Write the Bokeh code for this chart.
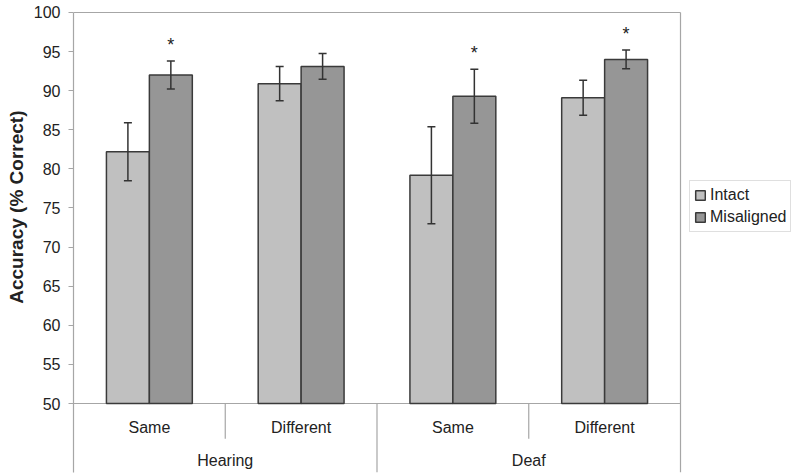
from bokeh.plotting import figure
from bokeh.models import (ColumnDataSource, Range1d, FixedTicker, Whisker, TeeHead,
                          Legend, LegendItem, Title)
from bokeh.core.properties import value
from bokeh.embed import file_html
from bokeh.resources import INLINE

# ---- data ----
groups = ["Hearing", "Deaf"]
conditions = ["Same", "Different", "Same", "Different"]
intact = [82.2, 90.9, 79.2, 89.1]
intact_err = [3.7, 2.2, 6.2, 2.25]
misaligned = [92.0, 93.1, 89.3, 94.0]
misaligned_err = [1.8, 1.65, 3.45, 1.2]
significant = [True, False, True, True]
y_ticks = [50, 55, 60, 65, 70, 75, 80, 85, 90, 95, 100]
y_label = "Accuracy (% Correct)"
series_names = ["Intact", "Misaligned"]

FONT = "Liberation Sans"
TEXT = "#222222"
GREY = "#a6a6a6"
BAR_W = 0.283
Y_MIN = 41.18
Y_MAX = 101.02

n = len(conditions)
X_MAX = n * 727 / 607   # leave room for the legend on the right
centers = [i + 0.5 for i in range(n)]

src_i = ColumnDataSource(dict(
    x=[c - BAR_W / 2 for c in centers], top=intact,
    upper=[v + e for v, e in zip(intact, intact_err)],
    lower=[v - e for v, e in zip(intact, intact_err)]))
src_m = ColumnDataSource(dict(
    x=[c + BAR_W / 2 for c in centers], top=misaligned,
    upper=[v + e for v, e in zip(misaligned, misaligned_err)],
    lower=[v - e for v, e in zip(misaligned, misaligned_err)]))

p = figure(width=800, height=476, output_backend="svg", toolbar_location=None,
           x_range=Range1d(0, X_MAX), y_range=Range1d(Y_MIN, Y_MAX),
           x_axis_location=None,
           min_border_left=73, min_border_right=0, min_border_top=4, min_border_bottom=4)
p.outline_line_color = None
p.xgrid.visible = False
p.ygrid.visible = False
p.background_fill_color = "white"
p.border_fill_color = "white"

yax = p.yaxis[0]
yax.ticker = FixedTicker(ticks=y_ticks)
yax.bounds = (Y_MIN, 100)
yax.axis_line_color = GREY
yax.axis_line_width = 1.2
yax.major_tick_line_color = GREY
yax.major_tick_out = 5
yax.major_tick_in = 0
yax.minor_tick_line_color = None
yax.major_label_standoff = 8
yax.major_label_text_font = FONT
yax.major_label_text_font_size = "16px"
yax.major_label_text_color = TEXT

p.add_layout(Title(text=y_label, align="right", offset=106, vertical_align="middle",
                   standoff=5, text_font=FONT, text_font_size="19px",
                   text_font_style="bold", text_color=TEXT), "left")

# plot-area border (top, right, baseline)
p.segment(x0=[0, 0, n], x1=[n, n, n], y0=[100, 50, Y_MIN], y1=[100, 50, 100],
          line_color=GREY, line_width=1.2)

# category dividers below the axis
short_x = [i for i in range(1, n) if i % 2 == 1]
long_x = [i for i in range(1, n) if i % 2 == 0]
p.segment(x0=short_x, x1=short_x, y0=[50] * len(short_x), y1=[45.5] * len(short_x),
          line_color=GREY, line_width=1.2)
p.segment(x0=long_x, x1=long_x, y0=[50] * len(long_x), y1=[Y_MIN] * len(long_x),
          line_color=GREY, line_width=1.2)

# bars
r_i = p.vbar(x="x", top="top", bottom=50, width=BAR_W, source=src_i,
             fill_color="#c0c0c0", line_color="#3a3a3a", line_width=1.5)
r_m = p.vbar(x="x", top="top", bottom=50, width=BAR_W, source=src_m,
             fill_color="#969696", line_color="#3a3a3a", line_width=1.5)

for s in (src_i, src_m):
    p.add_layout(Whisker(source=s, base="x", upper="upper", lower="lower", level="annotation",
                         line_color="#333333", line_width=1.5,
                         upper_head=TeeHead(size=8, line_color="#333333", line_width=1.5),
                         lower_head=TeeHead(size=8, line_color="#333333", line_width=1.5)))

# significance asterisks
sx = [src_m.data["x"][i] for i in range(n) if significant[i]]
sy = [src_m.data["upper"][i] for i in range(n) if significant[i]]
p.text(x=sx, y=sy, text=["*"] * len(sx), text_align="center", text_baseline="bottom",
       y_offset=-6, text_font=value(FONT), text_font_size="18px", text_color=TEXT)

# category labels
p.text(x=centers, y=[46.93] * n, text=conditions, text_align="center",
       text_baseline="middle", text_font=value(FONT), text_font_size="16px",
       text_color=TEXT)
gx = [2 * g + 1 for g in range(len(groups))]
p.text(x=gx, y=[42.71] * len(groups), text=groups, text_align="center",
       text_baseline="middle", text_font=value(FONT), text_font_size="16px",
       text_color=TEXT)

legend = Legend(items=[LegendItem(label=series_names[0], renderers=[r_i]),
                       LegendItem(label=series_names[1], renderers=[r_m])],
                location=(616, 240), orientation="vertical",
                glyph_width=12, glyph_height=12, label_standoff=4,
                label_height=20, spacing=2, padding=4, margin=0,
                label_text_font=FONT, label_text_font_size="16px", label_text_color=TEXT,
                border_line_color="#c0c0c0", border_line_width=1.2,
                background_fill_color="white")
p.add_layout(legend)

open("out.html", "w").write(file_html(p, INLINE))
